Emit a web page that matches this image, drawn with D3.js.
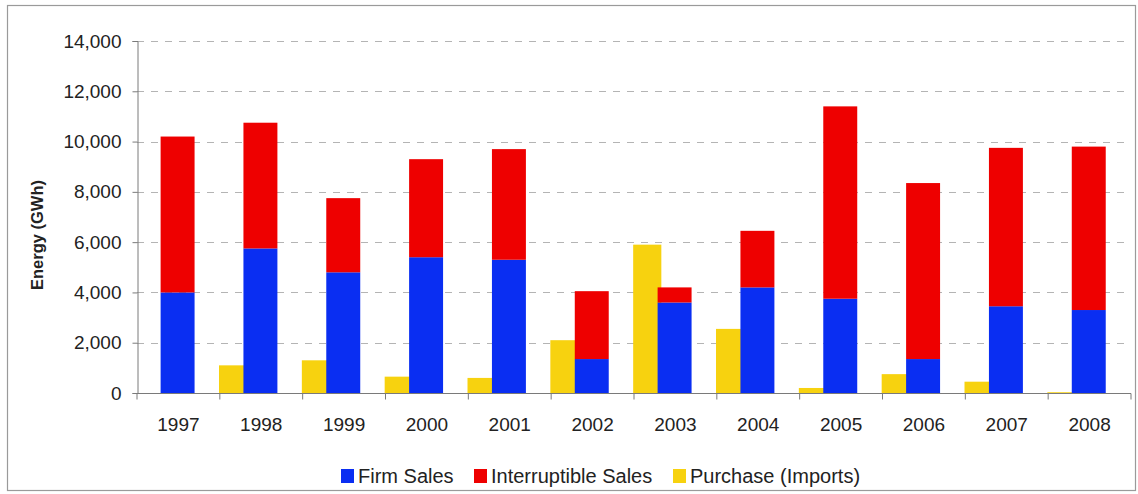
<!DOCTYPE html>
<html>
<head>
<meta charset="utf-8">
<script src="https://cdn.jsdelivr.net/npm/d3@7"></script>
<style>
  html, body { margin: 0; padding: 0; background: #ffffff; }
  svg { display: block; font-family: "Liberation Sans", Arial, Helvetica, sans-serif; }
</style>
</head>
<body>
<svg id="chart" width="1138" height="494"></svg>
<script>
// Annual energy (GWh): firm and interruptible sales stacked, purchases alongside
const years = ['1997','1998','1999','2000','2001','2002','2003','2004','2005','2006','2007','2008'];
const firmSales = [4000, 5750, 4800, 5400, 5300, 1350, 3600, 4200, 3750, 1350, 3450, 3300];
const interruptibleSales = [6200, 5000, 2950, 3900, 4400, 2700, 600, 2250, 7650, 7000, 6300, 6500];
const purchaseImports = [0, 1100, 1300, 650, 600, 2100, 5900, 2550, 200, 750, 450, 30];
const yTicks = [0, 2000, 4000, 6000, 8000, 10000, 12000, 14000];
const seriesNames = ['Firm Sales', 'Interruptible Sales', 'Purchase (Imports)'];
const seriesColors = ['#0a2ef2', '#ee0000', '#f7d20f'];

const svg = d3.select('#chart');
const plot = { left: 137, right: 1131, top: 41, bottom: 393 };

// outer frame
svg.append('rect')
  .attr('x', 7.5).attr('y', 5.5).attr('width', 1128).attr('height', 485)
  .attr('fill', '#ffffff').attr('stroke', '#9a9a9a').attr('stroke-width', 1.2);

const x = d3.scaleBand().domain(years).range([plot.left, plot.right]).paddingInner(0).paddingOuter(0);
const y = d3.scaleLinear().domain([0, 14000]).range([plot.bottom, plot.top]);
const bw = x.bandwidth();

// dashed gridlines
svg.append('g').selectAll('line').data(yTicks.filter(d => d > 0)).join('line')
  .attr('x1', plot.left).attr('x2', plot.right)
  .attr('y1', d => Math.round(y(d)) + 0.5).attr('y2', d => Math.round(y(d)) + 0.5)
  .attr('stroke', '#b4b4b4').attr('stroke-width', 1).attr('stroke-dasharray', '7,7');

const rows = years.map((yr, i) => ({ year: yr, firm: firmSales[i], inter: interruptibleSales[i], purchase: purchaseImports[i] }));

// purchase bars, left part of each category
svg.append('g').selectAll('rect').data(rows).join('rect')
  .attr('x', d => x(d.year) - 0.01 * bw)
  .attr('width', 0.34 * bw)
  .attr('y', d => y(d.purchase))
  .attr('height', d => y(0) - y(d.purchase))
  .attr('fill', seriesColors[2]);

// stacked sales bars
const stack = d3.stack().keys(['firm', 'inter']);
const stacked = stack(rows);
svg.append('g').selectAll('g').data(stacked).join('g')
  .attr('fill', (s, i) => seriesColors[i])
  .selectAll('rect').data(s => s).join('rect')
  .attr('x', d => x(d.data.year) + 0.285 * bw)
  .attr('width', 0.41 * bw)
  .attr('y', d => y(d[1]))
  .attr('height', d => y(d[0]) - y(d[1]));

// y axis
const yAxis = d3.axisLeft(y).tickValues(yTicks).tickSize(5).tickPadding(11)
  .tickFormat(d3.format(','));
const gy = svg.append('g').attr('transform', `translate(${plot.left + 0.5},0)`).call(yAxis);
gy.select('.domain').attr('stroke', '#7a7a7a');
gy.selectAll('.tick line').attr('stroke', '#7a7a7a');
gy.selectAll('.tick text').attr('font-size', 19).attr('fill', '#222').attr('font-family', null);

// x axis with ticks at category boundaries
const gx = svg.append('g').attr('transform', `translate(0,${plot.bottom + 0.5})`);
gx.append('line').attr('x1', plot.left).attr('x2', plot.right).attr('stroke', '#7a7a7a');
const bounds = years.map(yr => x(yr)).concat([plot.right]);
gx.selectAll('line.tk').data(bounds).join('line').attr('class', 'tk')
  .attr('x1', d => d).attr('x2', d => d).attr('y1', 0).attr('y2', 6).attr('stroke', '#7a7a7a');
gx.selectAll('text').data(years).join('text')
  .attr('x', d => x(d) + bw / 2).attr('y', 37)
  .attr('text-anchor', 'middle').attr('font-size', 19).attr('fill', '#222')
  .text(d => d);

// y axis title
svg.append('text')
  .attr('transform', `translate(43,235) rotate(-90)`)
  .attr('text-anchor', 'middle').attr('font-size', 16.5).attr('font-weight', 'bold').attr('fill', '#222')
  .text('Energy (GWh)');

// legend
const legendItems = [
  { name: seriesNames[0], color: seriesColors[0], x: 341 },
  { name: seriesNames[1], color: seriesColors[1], x: 474 },
  { name: seriesNames[2], color: seriesColors[2], x: 673 }
];
const lg = svg.append('g');
legendItems.forEach(it => {
  lg.append('rect').attr('x', it.x).attr('y', 469).attr('width', 13).attr('height', 14).attr('fill', it.color);
  lg.append('text').attr('x', it.x + 17).attr('y', 483).attr('font-size', 20).attr('fill', '#222').text(it.name);
});
</script>
</body>
</html>
